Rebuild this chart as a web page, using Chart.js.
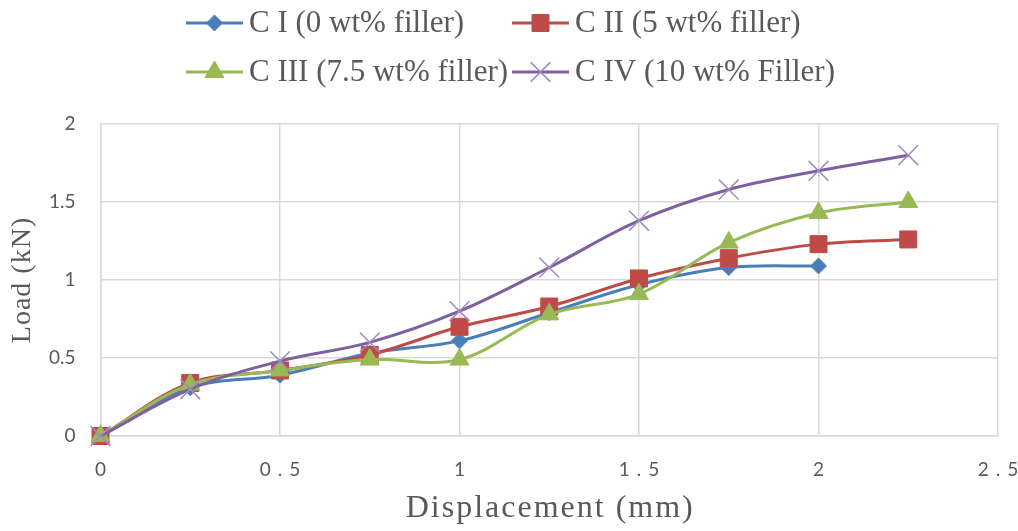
<!DOCTYPE html>
<html>
<head>
<meta charset="utf-8">
<script src="https://cdn.jsdelivr.net/npm/chart.js@4.4.0/dist/chart.umd.min.js"></script>
<style>
  body { margin: 0; background: #fff; }
  #wrap { width: 1018px; height: 531px; }
</style>
</head>
<body>
<div id="wrap"><canvas id="myChart"></canvas></div>
<script>
// displacement (mm) at each reading
const displacement = [0, 0.25, 0.5, 0.75, 1, 1.25, 1.5, 1.75, 2, 2.25];

// load (kN) per composite
const loadCI   = [0, 0.31, 0.39, 0.53, 0.61, 0.79, 0.97, 1.08, 1.09];
const loadCII  = [0, 0.34, 0.42, 0.52, 0.70, 0.83, 1.01, 1.14, 1.23, 1.26];
const loadCIII = [0, 0.33, 0.42, 0.49, 0.49, 0.78, 0.91, 1.24, 1.43, 1.50];
const loadCIV  = [0, 0.30, 0.48, 0.60, 0.80, 1.08, 1.38, 1.58, 1.70, 1.80];

const seriesLabels = ['C I (0 wt% filler)', 'C II (5 wt% filler)', 'C III (7.5 wt% filler)', 'C IV (10 wt% Filler)'];

const COLORS = {
  blue: '#4a7ebb',
  red: '#be4b48',
  green: '#98b954',
  purple: '#7d60a0'
};
const TEXT_GREY = '#595959';
const SERIF = '"Liberation Serif", "Times New Roman", serif';
const SANS = 'Lato, "Open Sans", sans-serif';

function toPoints(ys) {
  return ys.map((y, i) => ({ x: displacement[i], y: y }));
}

// excel style legend: line with marker in the middle, two columns
const lineLegend = {
  id: 'lineLegend',
  afterDraw(chart) {
    const ctx = chart.ctx;
    const sets = chart.data.datasets;
    ctx.save();
    ctx.font = '31px ' + SERIF;
    const lineLen = 57, gap = 6;
    const widths = sets.map(d => ctx.measureText(d.label).width);
    const colW = Math.max(...widths) + lineLen + gap + 3;
    const left = (chart.width - 2 * colW) / 2 + 3;
    sets.forEach((d, i) => {
      const x = left + (i % 2) * colW;
      const y = 23 + Math.floor(i / 2) * 49;
      ctx.strokeStyle = d.borderColor;
      ctx.lineWidth = 3;
      ctx.beginPath();
      ctx.moveTo(x, y);
      ctx.lineTo(x + lineLen, y);
      ctx.stroke();
      ctx.fillStyle = d.pointBackgroundColor;
      ctx.strokeStyle = d.pointBorderColor;
      ctx.lineWidth = d.pointBorderWidth;
      Chart.helpers.drawPoint(ctx, {
        pointStyle: d.pointStyle,
        radius: d.pointRadius,
        borderWidth: d.pointBorderWidth,
        rotation: 0
      }, x + lineLen / 2, y);
      ctx.fillStyle = TEXT_GREY;
      ctx.textBaseline = 'middle';
      ctx.textAlign = 'left';
      ctx.fillText(d.label, x + lineLen + gap, y + 1);
    });
    ctx.restore();
  }
};

// the x axis text in the original is widely spaced
function withSpacing(fn, spacing) {
  const px = parseFloat(spacing);
  return function (...args) {
    const c = this.ctx;
    c.save();
    c.letterSpacing = spacing;
    c.translate(px / 2, 0); // trailing space would pull centred text left
    fn.apply(this, args);
    c.restore();
  };
}
const spacedText = {
  id: 'spacedText',
  afterLayout(chart) {
    const xs = chart.scales.x, ys = chart.scales.y;
    if (xs._spaced) return;
    xs.drawLabels = withSpacing(xs.drawLabels, '7px');
    xs.drawTitle = withSpacing(xs.drawTitle, '2px');
    ys.drawTitle = withSpacing(ys.drawTitle, '1px');
    xs._spaced = true;
  }
};

const data = {
  datasets: [
    {
      label: seriesLabels[0],
      data: toPoints(loadCI),
      borderColor: COLORS.blue,
      pointBackgroundColor: COLORS.blue,
      pointBorderColor: COLORS.blue,
      pointStyle: 'rectRot',
      pointRadius: 8,
      pointBorderWidth: 1,
      clip: false,
      order: 4
    },
    {
      label: seriesLabels[1],
      data: toPoints(loadCII),
      borderColor: COLORS.red,
      pointBackgroundColor: COLORS.red,
      pointBorderColor: COLORS.red,
      pointStyle: 'rect',
      pointRadius: 12,
      pointBorderWidth: 1,
      clip: false,
      order: 3
    },
    {
      label: seriesLabels[2],
      data: toPoints(loadCIII),
      borderColor: COLORS.green,
      pointBackgroundColor: COLORS.green,
      pointBorderColor: COLORS.green,
      pointStyle: 'triangle',
      pointRadius: 11,
      pointBorderWidth: 1,
      clip: false,
      order: 2
    },
    {
      label: seriesLabels[3],
      data: toPoints(loadCIV),
      borderColor: COLORS.purple,
      pointBackgroundColor: COLORS.purple,
      pointBorderColor: '#a08cc0',
      pointStyle: 'crossRot',
      pointRadius: 14,
      pointBorderWidth: 1.5,
      clip: false,
      order: 1
    }
  ]
};

const plainTick = value => String(value);

const config = {
  type: 'line',
  data: data,
  options: {
    responsive: true,
    maintainAspectRatio: false,
    animation: false,
    layout: {
      padding: { top: 124, right: 0, left: 0, bottom: 0 }
    },
    elements: {
      line: { borderWidth: 3, tension: 0.35, fill: false }
    },
    plugins: {
      legend: { display: false },
      tooltip: { enabled: false }
    },
    scales: {
      x: {
        type: 'linear',
        min: 0,
        max: 2.5,
        afterFit(scale) {
          scale.paddingRight = 20;
        },
        ticks: {
          stepSize: 0.5,
          color: TEXT_GREY,
          padding: 24,
          callback: plainTick,
          font: { family: SANS, size: 19, lineHeight: 1 }
        },
        grid: { color: '#d9d9d9', lineWidth: 1.5, drawTicks: false },
        border: { color: '#d9d9d9', width: 1.5 },
        title: {
          display: true,
          text: 'Displacement (mm)',
          color: TEXT_GREY,
          padding: { top: -10, bottom: 6 },
          font: { family: SERIF, size: 32, lineHeight: 1 }
        }
      },
      y: {
        min: 0,
        max: 2,
        ticks: {
          stepSize: 0.5,
          color: TEXT_GREY,
          padding: 25,
          callback: plainTick,
          font: { family: SANS, size: 19, lineHeight: 1 }
        },
        grid: { color: '#d9d9d9', lineWidth: 1.5, drawTicks: false },
        border: { color: '#d9d9d9', width: 1.5 },
        title: {
          display: true,
          text: 'Load (kN)',
          color: TEXT_GREY,
          padding: { top: 8, bottom: -12 },
          font: { family: SERIF, size: 28, lineHeight: 1 }
        }
      }
    }
  },
  plugins: [lineLegend, spacedText]
};

const myChart = new Chart(document.getElementById('myChart'), config);
</script>
</body>
</html>
